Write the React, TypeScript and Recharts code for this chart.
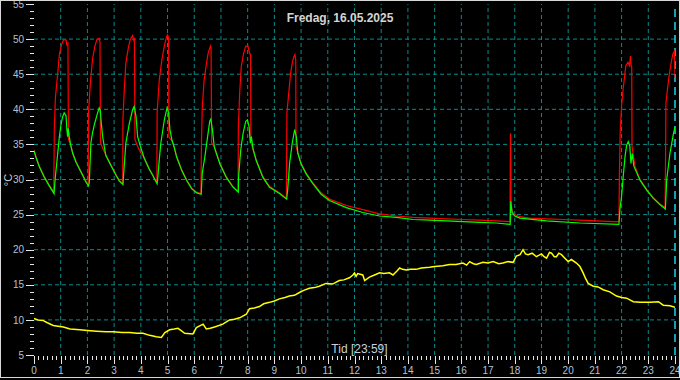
import { LineChart, Line, XAxis, YAxis, ReferenceLine } from 'recharts';

// flow temperature (red), hours -> °C
const FLOW: [number, number][] = [
  [0, 34.2], [0.07, 33.3], [0.2, 31.9], [0.39, 30.4], [0.57, 29.2], [0.74, 28.2],
  [0.76, 37.1], [0.8, 41.6], [0.89, 45.2], [0.95, 47.8], [1.03, 49.2], [1.11, 49.9], [1.2, 49.9], [1.23, 49.2], [1.27, 49.4], [1.29, 35.7],
  [1.38, 34.9], [1.45, 33.8], [1.57, 32.6], [1.7, 31.6], [1.82, 30.7], [1.95, 29.7], [2.03, 29.2],
  [2.04, 39.5], [2.11, 43.7], [2.19, 47.1], [2.28, 49.0], [2.36, 50.0], [2.44, 50.1], [2.47, 49.6], [2.49, 35.2],
  [2.57, 34.5], [2.69, 33.5], [2.88, 32.1], [3.07, 30.7], [3.19, 29.9], [3.32, 29.4],
  [3.33, 38.5], [3.38, 42.8], [3.44, 46.6], [3.53, 48.7], [3.6, 49.9], [3.69, 50.5], [3.73, 49.9], [3.76, 50.2], [3.78, 35.7],
  [3.88, 34.7], [4.0, 33.8], [4.13, 33.1], [4.31, 31.6], [4.44, 30.7], [4.6, 29.5],
  [4.61, 39.5], [4.69, 44.2], [4.79, 47.1], [4.88, 49.0], [4.96, 50.3], [5.0, 50.6], [5.04, 50.2], [5.05, 36.0],
  [5.15, 35.6], [5.22, 35.0], [5.34, 33.3], [5.53, 31.4], [5.71, 30.0], [5.9, 28.8], [6.09, 28.2], [6.25, 28.0],
  [6.27, 35.2], [6.3, 40.2], [6.37, 44.2], [6.46, 46.6], [6.52, 48.0], [6.58, 48.7], [6.61, 49.0], [6.63, 48.5], [6.65, 35.2],
  [6.75, 34.7], [6.96, 32.3], [7.2, 30.4], [7.45, 29.0], [7.64, 28.3],
  [7.65, 37.1], [7.7, 42.3], [7.76, 46.1], [7.85, 48.0], [7.93, 49.0], [8.01, 49.0], [8.07, 48.0], [8.11, 47.8], [8.12, 35.2],
  [8.2, 34.3], [8.32, 32.8], [8.57, 30.4], [8.82, 29.0], [9.19, 28.1], [9.45, 27.3],
  [9.47, 39.5], [9.55, 42.8], [9.61, 45.2], [9.67, 46.6], [9.73, 47.5], [9.77, 47.8], [9.8, 47.0], [9.81, 34.7],
  [9.88, 33.8], [10.0, 32.3], [10.19, 30.9], [10.44, 29.5], [10.75, 28.1], [11.06, 27.2], [11.69, 26.3], [12.31, 25.7],
  [12.94, 25.1], [13.56, 24.8], [14.19, 24.6], [14.81, 24.5], [15.44, 24.4], [16.06, 24.3], [16.69, 24.2], [17.31, 24.1], [17.82, 24.0],
  [17.84, 36.6], [17.86, 26.7], [17.9, 25.5], [18.0, 25.0], [18.19, 24.7], [18.56, 24.5], [19.19, 24.4], [19.81, 24.3],
  [20.44, 24.2], [21.06, 24.1], [21.69, 24.0], [21.9, 24.0],
  [21.92, 31.0], [21.95, 37.1], [22.01, 41.0], [22.07, 43.3], [22.16, 46.2], [22.24, 46.7], [22.3, 46.2], [22.33, 47.6], [22.36, 46.2], [22.38, 46.0], [22.39, 34.7],
  [22.5, 31.9], [22.69, 30.0], [22.94, 28.6], [23.19, 27.4], [23.44, 26.5], [23.63, 26.0],
  [23.65, 35.0], [23.66, 40.9], [23.72, 42.9], [23.78, 44.8], [23.86, 46.7], [23.92, 47.9], [23.98, 48.3], [24.0, 44.5],
];

// return temperature (green)
const RETURN: [number, number][] = [
  [0, 34.1], [0.07, 33.2], [0.2, 31.8], [0.39, 30.3], [0.57, 29.1], [0.75, 28.0],
  [0.8, 30.4], [0.89, 33.8], [0.95, 36.1], [1.01, 37.8], [1.07, 38.9], [1.13, 39.5], [1.2, 39.1], [1.23, 37.1], [1.26, 36.1], [1.28, 37.3], [1.32, 36.1], [1.38, 34.8],
  [1.45, 33.7], [1.57, 32.5], [1.7, 31.5], [1.82, 30.6], [1.95, 29.6], [2.04, 29.1],
  [2.07, 29.5], [2.13, 35.2], [2.19, 36.6], [2.26, 37.8], [2.36, 39.2], [2.44, 40.2], [2.48, 39.9], [2.52, 38.0], [2.57, 36.1], [2.63, 34.7],
  [2.69, 33.4], [2.88, 32.0], [3.07, 30.6], [3.19, 29.8], [3.33, 29.3],
  [3.35, 30.4], [3.44, 35.2], [3.57, 38.0], [3.69, 39.9], [3.75, 40.4], [3.82, 39.0], [3.88, 36.1], [3.97, 34.9],
  [4.13, 33.0], [4.31, 31.5], [4.44, 30.6], [4.61, 29.4],
  [4.63, 30.0], [4.69, 32.8], [4.75, 35.2], [4.88, 38.5], [4.98, 40.2], [5.04, 39.5], [5.09, 37.1], [5.16, 35.7], [5.25, 34.6],
  [5.34, 33.2], [5.53, 31.3], [5.71, 29.9], [5.9, 28.7], [6.09, 28.1], [6.26, 27.9],
  [6.3, 30.9], [6.4, 33.3], [6.5, 36.1], [6.58, 38.3], [6.62, 38.6], [6.68, 37.1], [6.75, 34.6],
  [6.96, 32.2], [7.2, 30.3], [7.45, 28.9], [7.65, 28.2],
  [7.66, 30.4], [7.74, 34.2], [7.83, 36.6], [7.93, 38.3], [7.99, 38.5], [8.05, 37.6], [8.1, 35.2], [8.14, 36.1], [8.2, 34.4], [8.32, 32.7],
  [8.57, 30.3], [8.82, 28.9], [9.19, 28.0], [9.46, 27.2],
  [9.5, 28.6], [9.57, 32.3], [9.67, 35.2], [9.76, 37.1], [9.82, 36.1], [9.88, 33.7], [10.0, 32.2],
  [10.19, 30.8], [10.44, 29.4], [10.75, 27.9], [11.06, 27.0], [11.69, 26.0], [12.31, 25.3], [12.94, 24.8], [13.56, 24.6],
  [14.19, 24.3], [14.81, 24.2], [15.44, 24.1], [16.06, 24.0], [16.69, 23.9], [17.31, 23.8], [17.83, 23.6],
  [17.85, 26.9], [17.9, 25.3], [18.0, 24.8], [18.19, 24.5], [19.19, 24.1], [20.44, 23.8], [21.9, 23.6],
  [21.94, 25.8], [22.0, 27.6], [22.06, 30.4], [22.13, 33.3], [22.19, 34.9], [22.25, 35.4], [22.31, 34.7], [22.35, 32.3], [22.4, 33.7], [22.46, 31.9],
  [22.69, 29.9], [22.94, 28.5], [23.19, 27.3], [23.44, 26.4], [23.64, 25.8],
  [23.69, 30.0], [23.81, 33.7], [23.94, 36.5], [24.0, 37.5],
];

// outdoor temperature (yellow)
const OUTDOOR: [number, number][] = [
  [0, 10.2], [0.15, 10.0], [0.35, 9.9], [0.5, 9.6], [0.72, 9.2], [0.9, 9.1], [1.1, 9.0], [1.35, 8.7], [1.72, 8.6], [2.0, 8.5],
  [2.34, 8.4], [2.7, 8.3], [2.96, 8.3], [3.3, 8.2], [3.59, 8.2], [3.85, 8.1], [4.08, 8.1], [4.33, 7.8], [4.58, 7.6], [4.77, 7.5],
  [4.9, 8.2], [5.08, 8.6], [5.25, 8.7], [5.39, 8.8], [5.5, 8.5], [5.64, 8.1], [5.95, 8.0], [6.08, 8.9], [6.33, 9.4], [6.45, 8.7],
  [6.6, 8.8], [6.76, 9.0], [7.07, 9.4], [7.32, 10.0], [7.5, 10.1], [7.7, 10.3], [7.95, 10.8], [8.07, 11.6], [8.25, 11.7], [8.44, 11.9],
  [8.6, 12.3], [8.82, 12.5], [9.0, 12.7], [9.19, 13.0], [9.4, 13.2], [9.56, 13.4], [9.75, 13.5], [9.94, 13.9], [10.1, 14.2], [10.31, 14.5],
  [10.5, 14.6], [10.68, 14.8], [10.93, 15.2], [11.18, 15.1], [11.43, 15.6], [11.6, 15.7], [11.81, 16.0], [11.94, 16.4], [12.0, 16.7],
  [12.06, 16.2], [12.12, 16.6], [12.31, 16.4], [12.38, 15.6], [12.56, 16.1], [12.75, 16.4], [12.94, 16.7], [13.1, 16.6], [13.31, 16.7],
  [13.44, 16.4], [13.6, 17.0], [13.69, 17.4], [13.8, 17.2], [13.94, 17.1], [14.1, 17.2], [14.31, 17.2], [14.5, 17.4], [14.81, 17.5],
  [15.0, 17.6], [15.31, 17.7], [15.56, 17.9], [15.8, 17.9], [16.06, 18.1], [16.2, 17.8], [16.31, 18.3], [16.45, 18.0], [16.56, 17.9],
  [16.81, 18.2], [17.0, 18.1], [17.19, 18.3], [17.4, 18.0], [17.56, 18.1], [17.75, 18.3], [17.94, 18.2], [18.06, 19.1], [18.2, 19.3],
  [18.31, 20.0], [18.4, 19.4], [18.5, 19.3], [18.65, 19.5], [18.81, 19.0], [19.0, 19.4], [19.1, 19.0], [19.19, 18.8], [19.3, 19.6],
  [19.38, 19.5], [19.48, 19.0], [19.56, 19.0], [19.65, 19.5], [19.75, 19.3], [19.85, 18.9], [20.0, 18.3], [20.12, 18.6], [20.31, 18.1],
  [20.44, 17.6], [20.56, 16.7], [20.65, 15.9], [20.75, 15.2], [20.94, 14.8], [21.12, 14.7], [21.31, 14.3], [21.56, 14.0], [21.81, 13.4],
  [22.0, 13.2], [22.19, 13.1], [22.44, 12.6], [22.69, 12.5], [23.06, 12.5], [23.38, 12.6], [23.56, 12.1], [23.81, 12.0], [24.0, 11.8],
];

const X_TICKS = Array.from({ length: 145 }, (_, i) => i / 6);
const Y_TICKS = Array.from({ length: 51 }, (_, i) => 5 + i);
const H_GRID = [10, 15, 20, 25, 30, 35, 40, 45, 50];
const V_GRID = Array.from({ length: 23 }, (_, i) => i + 1);

const TITLE = 'Fredag, 16.05.2025';
const X_LABEL = 'Tid [23:59]';
const Y_LABEL = '°C';

const TICK_COLOR = '#b4c2d2';
const GRID_COLOR = '#0a8a8a';
const FONT = '"Liberation Sans", Arial, sans-serif';

const toRows = (pts: [number, number][]) => pts.map(([t, v]) => ({ t, v }));

function HourTick({ x, y, payload }: any) {
  const v = payload.value;
  const major = Math.abs(v - Math.round(v)) < 1e-6;
  const px = Math.round(x) + 0.5;
  return (
    <g>
      <line x1={px} x2={px} y1={y + 1} y2={y + (major ? 9 : 5)} stroke="#e6e6e6" />
      {major && (
        <text x={x} y={y + 19} textAnchor="middle" fill={TICK_COLOR} fontSize={10} fontFamily={FONT}>
          {Math.round(v)}
        </text>
      )}
    </g>
  );
}

function TempTick({ x, y, payload }: any) {
  const v = payload.value;
  const major = v % 5 === 0;
  const py = Math.round(y) + 0.5;
  return (
    <g>
      <line x1={x - (major ? 8 : 4)} x2={x} y1={py} y2={py} stroke="#e6e6e6" />
      {major && (
        <text x={x - 10} y={y + 3.6} textAnchor="end" fill={TICK_COLOR} fontSize={10} fontFamily={FONT}>
          {v}
        </text>
      )}
    </g>
  );
}

export default function App() {
  return (
    <div style={{ position: 'fixed', left: 0, top: 0, width: 680, height: 380, background: '#000', fontFamily: FONT }}>
      <LineChart width={680} height={380} margin={{ top: 4, right: 5, left: 0, bottom: 0 }}>
        <XAxis
          dataKey="t"
          type="number"
          domain={[0, 24]}
          ticks={X_TICKS}
          interval={0}
          height={25}
          axisLine={false}
          tickLine={false}
          tickSize={0}
          tickMargin={0}
          tick={<HourTick />}
          allowDataOverflow
        />
        <YAxis
          type="number"
          domain={[5, 55]}
          ticks={Y_TICKS}
          interval={0}
          width={34}
          axisLine={false}
          tickLine={false}
          tickSize={0}
          tickMargin={0}
          tick={<TempTick />}
          allowDataOverflow
        />
        {H_GRID.map((v) => (
          <ReferenceLine key={'h' + v} y={v} stroke={GRID_COLOR} strokeDasharray="4 3" />
        ))}
        {V_GRID.map((v) => (
          <ReferenceLine key={'v' + v} x={v} stroke={GRID_COLOR} strokeDasharray="4 3" />
        ))}
        <ReferenceLine x={24} stroke="#19d6e8" strokeWidth={1.5} strokeDasharray="8 5" />
        <Line data={toRows(OUTDOOR)} dataKey="v" type="linear" stroke="#ffff00" strokeWidth={1.5} dot={false} activeDot={false} isAnimationActive={false} />
        <Line data={toRows(FLOW)} dataKey="v" type="linear" stroke="#ff0000" strokeWidth={1.2} dot={false} activeDot={false} isAnimationActive={false} />
        <Line data={toRows(RETURN)} dataKey="v" type="linear" stroke="#00ff00" strokeWidth={1.2} dot={false} activeDot={false} isAnimationActive={false} />
      </LineChart>
      <svg width={680} height={380} style={{ position: 'absolute', left: 0, top: 0, pointerEvents: 'none' }}>
        <text x={340} y={22} textAnchor="middle" fill="#d4d4d4" fontSize={12} fontWeight="bold" fontFamily={FONT}>
          {TITLE}
        </text>
        <text x={359.5} y={353} textAnchor="middle" fill="#c8d0dc" fontSize={12} fontFamily={FONT}>
          {X_LABEL}
        </text>
        <text x={12} y={180} transform="rotate(-90 12 180)" textAnchor="middle" fill="#c8d0dc" fontSize={11} fontFamily={FONT}>
          {Y_LABEL}
        </text>
        <rect x={0.5} y={0.5} width={679} height={377} fill="none" stroke="#d8d8d8" />
      </svg>
    </div>
  );
}
